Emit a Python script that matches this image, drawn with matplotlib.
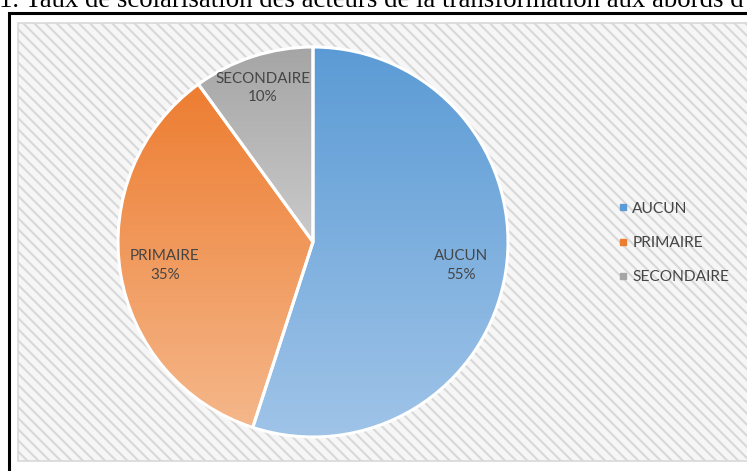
import numpy as np
import matplotlib
matplotlib.use("Agg")
import matplotlib.pyplot as plt
from matplotlib.colors import LinearSegmentedColormap
from matplotlib.lines import Line2D
from matplotlib.patches import Rectangle

# data
categories = ["AUCUN", "PRIMAIRE", "SECONDAIRE"]
shares = [55, 35, 10]
top_colors = ["#5B9BD5", "#ED7D31", "#A5A5A5"]
bottom_colors = ["#A0C4E8", "#F5B78A", "#CACACA"]
title = "1. Taux de scolarisation des acteurs de la transformation aux abords d"

W, H = 747, 471
plt.rcParams["hatch.linewidth"] = 1.5
plt.rcParams["hatch.color"] = "#DEDEDE"

fig = plt.figure(figsize=(W / 100, H / 100), dpi=100)
ax = fig.add_axes([0, 0, 1, 1])
ax.set_xlim(0, W)
ax.set_ylim(0, H)
ax.axis("off")

# page caption, cut at the top like in the scan
ax.text(-1, H - 7, title, fontsize=19.3, family="Liberation Serif",
        color="black", va="baseline", ha="left")

# black frame of the figure box
ax.plot([9, 9, W + 5], [-5, H - 13, H - 13], color="black", lw=2.2,
        solid_joinstyle="miter")

# chart area with diagonal stripes
bg = Rectangle((18, H - 461), W, 438, facecolor="#F6F6F6",
               edgecolor="#D8D8D8", lw=1.2, hatch="\\\\\\", zorder=1)
ax.add_patch(bg)

center = (313, H - 242)
radius = 195

wedges, texts, autotexts = ax.pie(
    shares, startangle=90, counterclock=False, center=center, radius=radius,
    autopct=lambda p: "", pctdistance=0.77, frame=True,
    wedgeprops=dict(edgecolor="white", linewidth=2.2, zorder=3))
ax.set_aspect("auto")
ax.axis("off")

grad = np.linspace(0, 1, 256).reshape(-1, 1)
for w, c0, c1 in zip(wedges, top_colors, bottom_colors):
    verts = w.get_patch_transform().transform(w.get_path().vertices)
    x0, y0 = verts.min(axis=0)
    x1, y1 = verts.max(axis=0)
    cmap = LinearSegmentedColormap.from_list("g", [c0, c1])
    im = ax.imshow(grad, cmap=cmap, extent=[x0, x1, y0, y1], origin="upper",
                   aspect="auto", zorder=2, interpolation="bicubic")
    im.set_clip_path(w)
    w.set_facecolor("none")

ax.set_xlim(0, W)
ax.set_ylim(0, H)

for i, t in enumerate(autotexts):
    x, y = t.get_position()
    if categories[i] == "SECONDAIRE":
        x = center[0] + (x - center[0]) * 0.83 / 0.77
        y = center[1] + (y - center[1]) * 0.83 / 0.77
    t.set_position((x, y))
    t.set_text(f"{categories[i]}\n{shares[i]}%")
    t.set_fontsize(10.9)
    t.set_family("Lato")
    t.set_color("#454545")
    t.set_linespacing(1.4)
    t.set_zorder(4)

handles = [Line2D([], [], marker="s", linestyle="none", markersize=4.5,
                  markerfacecolor=c, markeredgecolor=c) for c in top_colors]
leg = ax.legend(handles, categories, loc="center left",
                bbox_to_anchor=(605 / W, 1 - 243 / H), frameon=False,
                prop={"family": "Lato", "size": 11.2}, labelspacing=1.3,
                handlelength=0.5, handletextpad=0.35, labelcolor="#454545")
leg.set_zorder(5)

fig.savefig("out.png", dpi=100)
